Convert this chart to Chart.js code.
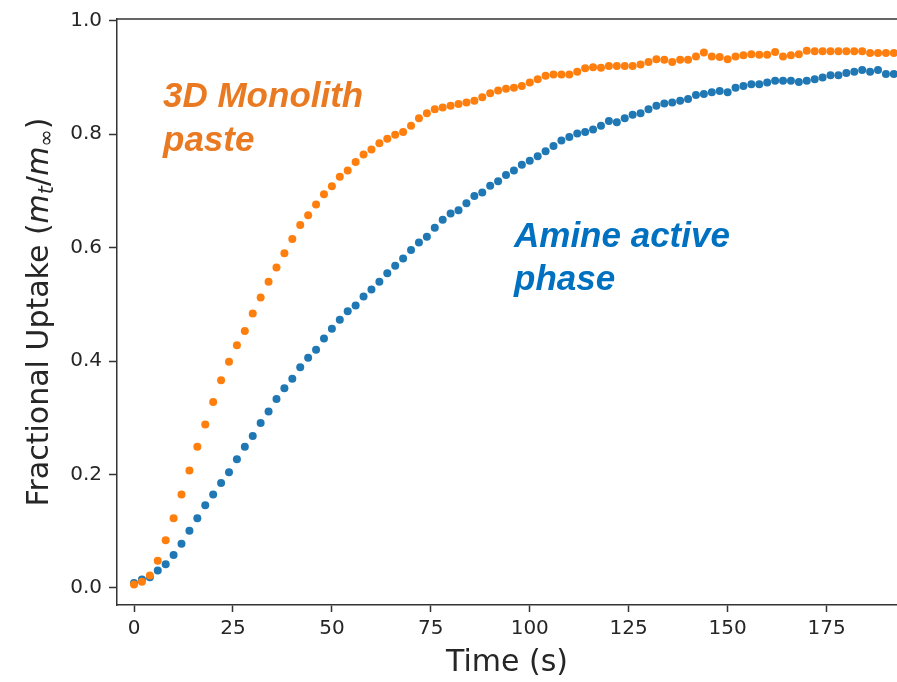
<!DOCTYPE html>
<html>
<head>
<meta charset="utf-8">
<script src="https://cdn.jsdelivr.net/npm/chart.js@4.4.1/dist/chart.umd.min.js"></script>
<style>
  body { margin: 0; background: #fff; }
  #wrap { width: 897px; height: 682px; }
</style>
</head>
<body>
<div id="wrap"><canvas id="grafico" width="897" height="682"></canvas></div>
<script>
// tiempos de muestreo (s)
const tiempos = [0, 2, 4, 6, 8, 10, 12, 14, 16, 18, 20, 22, 24, 26, 28, 30, 32, 34, 36, 38,
  40, 42, 44, 46, 48, 50, 52, 54, 56, 58, 60, 62, 64, 66, 68, 70, 72, 74, 76, 78,
  80, 82, 84, 86, 88, 90, 92, 94, 96, 98, 100, 102, 104, 106, 108, 110, 112, 114, 116, 118,
  120, 122, 124, 126, 128, 130, 132, 134, 136, 138, 140, 142, 144, 146, 148, 150, 152, 154, 156, 158,
  160, 162, 164, 166, 168, 170, 172, 174, 176, 178, 180, 182, 184, 186, 188, 190, 192];

// 3D Monolith paste
const monolito = [0.006, 0.011, 0.022, 0.048, 0.084, 0.123, 0.165, 0.207, 0.249, 0.288,
  0.328, 0.366, 0.399, 0.428, 0.453, 0.484, 0.512, 0.540, 0.565, 0.590,
  0.615, 0.640, 0.657, 0.676, 0.694, 0.708, 0.725, 0.736, 0.751, 0.764,
  0.773, 0.784, 0.792, 0.799, 0.804, 0.815, 0.828, 0.837, 0.844, 0.847,
  0.850, 0.853, 0.856, 0.859, 0.865, 0.872, 0.877, 0.880, 0.882, 0.885,
  0.891, 0.897, 0.903, 0.905, 0.905, 0.905, 0.910, 0.916, 0.918, 0.917,
  0.920, 0.920, 0.920, 0.920, 0.923, 0.927, 0.932, 0.931, 0.927, 0.931,
  0.931, 0.937, 0.944, 0.937, 0.936, 0.932, 0.937, 0.939, 0.941, 0.940,
  0.940, 0.945, 0.937, 0.939, 0.941, 0.947, 0.946, 0.946, 0.946, 0.946,
  0.946, 0.946, 0.946, 0.943, 0.943, 0.943, 0.943];

// Amine active phase
const amina = [0.009, 0.015, 0.019, 0.031, 0.042, 0.058, 0.078, 0.101, 0.123, 0.146,
  0.165, 0.185, 0.204, 0.227, 0.249, 0.268, 0.291, 0.311, 0.333, 0.352,
  0.369, 0.389, 0.406, 0.420, 0.440, 0.457, 0.473, 0.488, 0.498, 0.514,
  0.526, 0.540, 0.555, 0.568, 0.581, 0.596, 0.609, 0.619, 0.635, 0.649,
  0.660, 0.666, 0.678, 0.691, 0.697, 0.709, 0.717, 0.728, 0.736, 0.746,
  0.753, 0.761, 0.770, 0.779, 0.789, 0.795, 0.801, 0.804, 0.808, 0.815,
  0.823, 0.821, 0.828, 0.834, 0.837, 0.844, 0.850, 0.854, 0.856, 0.859,
  0.862, 0.869, 0.871, 0.874, 0.876, 0.874, 0.882, 0.885, 0.888, 0.888,
  0.891, 0.894, 0.894, 0.894, 0.892, 0.894, 0.897, 0.900, 0.904, 0.904,
  0.908, 0.910, 0.913, 0.910, 0.913, 0.906, 0.906];

const ticksX = [0, 25, 50, 75, 100, 125, 150, 175];
const ticksY = [0.0, 0.2, 0.4, 0.6, 0.8, 1.0];

const colorEje = '#333333';
const colorTexto = '#262626';

// borde superior + titulo del eje y + etiquetas
const extras = {
  id: 'extras',
  afterDraw(chart) {
    const c = chart.ctx;
    const a = chart.chartArea;
    c.save();
    c.strokeStyle = colorEje;
    c.lineWidth = 1.5;
    c.beginPath();
    c.moveTo(a.left, a.top);
    c.lineTo(a.right, a.top);
    c.stroke();

    // titulo y: Fractional Uptake (m_t/m_inf)
    const fs = 30;
    const partes = [
      { t: 'Fractional Uptake (', f: fs + 'px "DejaVu Sans"', dy: 0 },
      { t: 'm', f: 'italic ' + fs + 'px "DejaVu Sans"', dy: 0 },
      { t: 't', f: 'italic ' + Math.round(fs * 0.7) + 'px "DejaVu Sans"', dy: 5 },
      { t: '/', f: fs + 'px "DejaVu Sans"', dy: 0 },
      { t: 'm', f: 'italic ' + fs + 'px "DejaVu Sans"', dy: 0 },
      { t: '\u221E', f: Math.round(fs * 0.7) + 'px "DejaVu Sans"', dy: 5 },
      { t: ')', f: fs + 'px "DejaVu Sans"', dy: 0 }
    ];
    let total = 0;
    partes.forEach(p => { c.font = p.f; p.w = c.measureText(p.t).width; total += p.w; });
    c.translate(48, (a.top + a.bottom) / 2);
    c.rotate(-Math.PI / 2);
    c.fillStyle = colorTexto;
    c.textBaseline = 'alphabetic';
    let x = -total / 2;
    partes.forEach(p => { c.font = p.f; c.fillText(p.t, x, p.dy); x += p.w; });
    c.restore();

    c.save();
    c.font = 'italic bold 35px "Liberation Sans"';
    c.fillStyle = '#E97A22';
    c.fillText('3D Monolith', 163, 107);
    c.fillText('paste', 163, 151);
    c.fillStyle = '#0070C0';
    c.fillText('Amine active', 514, 247);
    c.fillText('phase', 514, 290);
    c.restore();
  }
};

new Chart(document.getElementById('grafico').getContext('2d'), {
  type: 'scatter',
  data: {
    datasets: [
      {
        label: '3D Monolith paste',
        data: tiempos.map((t, i) => ({ x: t, y: monolito[i] })),
        backgroundColor: '#ff7f0e',
        borderWidth: 0,
        pointRadius: 4
      },
      {
        label: 'Amine active phase',
        data: tiempos.map((t, i) => ({ x: t, y: amina[i] })),
        backgroundColor: '#1f77b4',
        borderWidth: 0,
        pointRadius: 4
      }
    ]
  },
  options: {
    responsive: false,
    animation: false,
    layout: { autoPadding: false, padding: { top: 16, right: 0, left: 0, bottom: 0 } },
    plugins: { legend: { display: false }, tooltip: { enabled: false } },
    scales: {
      x: {
        type: 'linear',
        min: -4.3,
        max: 192.8,
        afterBuildTicks: s => { s.ticks = ticksX.map(v => ({ value: v })); },
        afterFit: s => { s.height = 77; },
        grid: { drawOnChartArea: false, tickLength: 7, tickColor: colorEje, tickWidth: 1.5 },
        border: { color: colorEje, width: 1.5 },
        ticks: { color: colorTexto, font: { family: 'DejaVu Sans', size: 20 }, padding: 5, maxRotation: 0 },
        title: { display: true, text: 'Time (s)', color: colorTexto, font: { family: 'DejaVu Sans', size: 30 }, padding: { top: 0, bottom: 1 } }
      },
      y: {
        min: -0.03,
        max: 1.003,
        afterBuildTicks: s => { s.ticks = ticksY.map(v => ({ value: v })); },
        afterFit: s => { s.width = 117; },
        grid: { drawOnChartArea: false, tickLength: 8, tickColor: colorEje, tickWidth: 1.5 },
        border: { color: colorEje, width: 1.5 },
        ticks: { color: colorTexto, font: { family: 'DejaVu Sans', size: 20 }, padding: 7, callback: v => v.toFixed(1) }
      }
    }
  },
  plugins: [extras]
});
</script>
</body>
</html>
